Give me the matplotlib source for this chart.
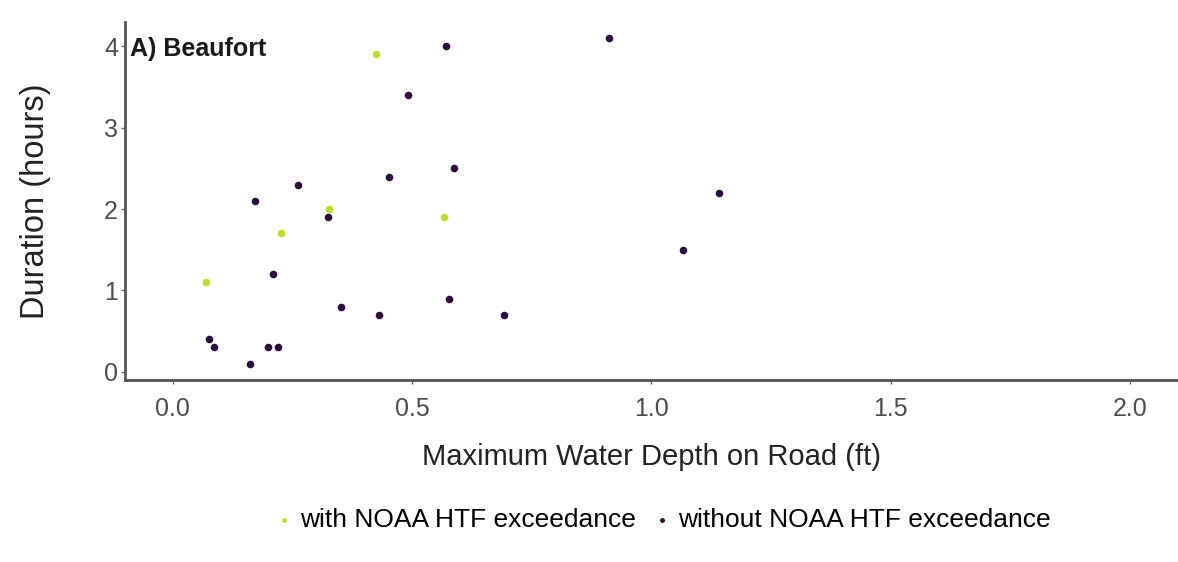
import matplotlib

matplotlib.use("Agg")
import matplotlib.pyplot as plt

plt.rcParams["font.family"] = ["Liberation Sans", "DejaVu Sans"]

# events with NOAA high-tide-flood exceedance
with_depth = [0.424, 0.326, 0.227, 0.566, 0.070]
with_dur = [3.9, 2.0, 1.7, 1.9, 1.1]

# events without exceedance
without_depth = [0.571, 0.492, 0.588, 0.451, 0.261, 0.171, 0.325, 0.209, 0.577, 0.352,
                 0.430, 0.075, 0.086, 0.200, 0.220, 0.162, 0.911, 1.142, 1.065, 0.693]
without_dur = [4.0, 3.4, 2.5, 2.4, 2.3, 2.1, 1.9, 1.2, 0.9, 0.8,
               0.7, 0.4, 0.3, 0.3, 0.3, 0.1, 4.1, 2.2, 1.5, 0.7]

x_ticks = [0.0, 0.5, 1.0, 1.5, 2.0]
y_ticks = [0, 1, 2, 3, 4]

green = "#bddf26"
dark = "#2e0b3f"
grey = "#4d4d4d"

fig = plt.figure(figsize=(11.78, 5.62), dpi=100)
ax = fig.add_axes([0.106, 0.324, 0.894, 0.637])

ax.scatter(with_depth, with_dur, s=30, color=green, linewidths=0,
           label="with NOAA HTF exceedance", zorder=3)
ax.scatter(without_depth, without_dur, s=30, color=dark, linewidths=0,
           label="without NOAA HTF exceedance", zorder=3)

ax.set_xlim(-0.1, 2.1)
ax.set_ylim(-0.1, 4.3)
ax.set_xticks(x_ticks)
ax.set_xticklabels([f"{v:.1f}" for v in x_ticks])
ax.set_yticks(y_ticks)

for side in ("top", "right"):
    ax.spines[side].set_visible(False)
for side in ("left", "bottom"):
    ax.spines[side].set_color("#555555")
    ax.spines[side].set_linewidth(2)

ax.tick_params(axis="both", colors="#666666", length=3, width=1,
               labelsize=18, labelcolor=grey)
ax.tick_params(axis="x", pad=9)
ax.tick_params(axis="y", pad=2)

ax.set_xlabel("Maximum Water Depth on Road (ft)", fontsize=21, color="#222222", labelpad=16)
ax.set_ylabel("Duration (hours)", fontsize=23.5, color="#222222", labelpad=38)

ax.text(0.005, 0.925, "A) Beaufort", transform=ax.transAxes, fontsize=18,
        fontweight="bold", color="#1a1a1a", va="center", ha="left")

fig.legend(loc="center", bbox_to_anchor=(0.561, 0.075), ncol=2, frameon=False,
           fontsize=19, markerscale=0.65, handletextpad=0.1, columnspacing=0.5,
           handlelength=1.0)

fig.savefig("out.png", dpi=100, facecolor="white")
